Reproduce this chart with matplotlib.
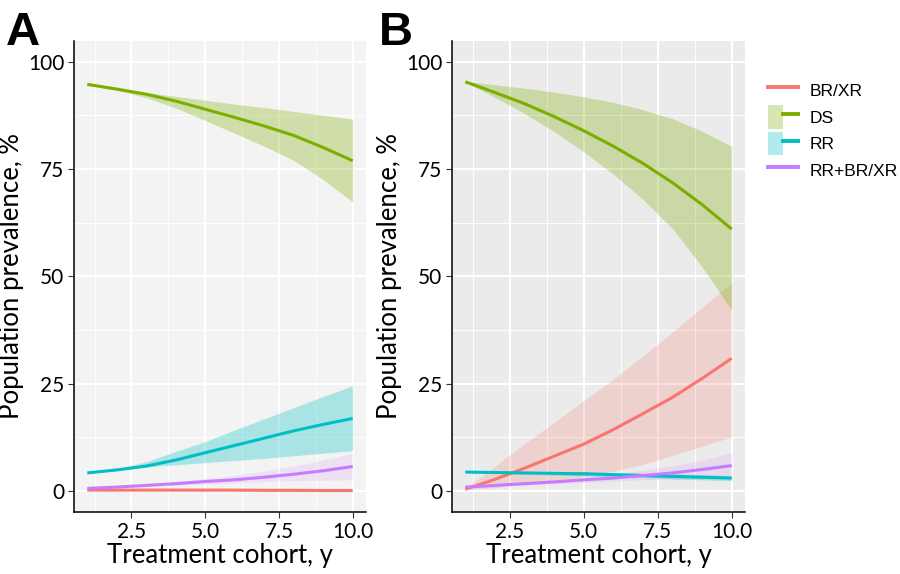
import numpy as np
import matplotlib
matplotlib.use("Agg")
import matplotlib.pyplot as plt
from matplotlib.lines import Line2D
from matplotlib.patches import Patch
from matplotlib.legend_handler import HandlerTuple

plt.rcParams['font.family'] = ['Lato', 'DejaVu Sans']

years = [1, 2, 3, 4, 5, 6, 7, 8, 9, 10]
groups = ['BR/XR', 'DS', 'RR', 'RR+BR/XR']
colors = {'BR/XR': '#F8766D', 'DS': '#7CAE00', 'RR': '#00BFC4', 'RR+BR/XR': '#C77CFF'}

# panel A
a_brxr = [0.2, 0.2, 0.2, 0.2, 0.2, 0.2, 0.15, 0.15, 0.1, 0.1]
a_brxr_lo = [0.1, 0.1, 0.1, 0.1, 0.05, 0.05, 0.0, 0.0, 0.0, 0.0]
a_brxr_hi = [0.3, 0.3, 0.3, 0.3, 0.3, 0.3, 0.3, 0.3, 0.3, 0.3]
a_ds = [94.7, 93.6, 92.4, 90.8, 88.9, 87.0, 85.0, 82.8, 80.0, 76.9]
a_ds_lo = [94.6, 93.3, 91.6, 89.2, 86.3, 83.3, 80.3, 77.0, 72.5, 67.3]
a_ds_hi = [94.8, 93.7, 92.8, 91.9, 91.0, 90.1, 89.3, 88.4, 87.5, 86.6]
a_rr = [4.2, 4.9, 5.8, 7.2, 8.9, 10.6, 12.3, 14.0, 15.5, 16.9]
a_rr_lo = [4.1, 4.8, 5.6, 6.1, 6.6, 7.1, 7.6, 8.2, 8.8, 9.4]
a_rr_hi = [4.3, 5.2, 6.8, 9.2, 11.5, 14.2, 16.8, 19.4, 22.0, 24.5]
a_rrbr = [0.6, 0.9, 1.3, 1.7, 2.2, 2.6, 3.2, 3.9, 4.7, 5.7]
a_rrbr_lo = [0.5, 0.7, 1.0, 1.3, 1.6, 1.9, 2.2, 2.4, 2.5, 2.6]
a_rrbr_hi = [0.7, 1.1, 1.6, 2.2, 2.9, 3.6, 4.6, 5.8, 7.2, 8.8]

# panel B
b_brxr = [0.4, 2.7, 5.3, 8.1, 10.9, 14.3, 18.0, 21.8, 26.2, 30.9]
b_brxr_lo = [0.3, 0.8, 1.6, 2.4, 3.4, 4.6, 6.2, 8.3, 10.4, 12.6]
b_brxr_hi = [0.5, 5.8, 11.0, 16.0, 21.0, 26.0, 31.5, 37.0, 42.8, 48.5]
b_ds = [95.3, 92.8, 90.2, 87.2, 83.9, 80.3, 76.3, 71.8, 66.7, 61.0]
b_ds_lo = [95.2, 91.7, 87.9, 83.7, 79.0, 73.8, 67.9, 61.1, 52.2, 42.1]
b_ds_hi = [95.4, 94.6, 93.8, 92.9, 91.8, 90.5, 88.8, 86.7, 83.8, 80.2]
b_rr = [4.4, 4.3, 4.2, 4.1, 4.0, 3.8, 3.6, 3.4, 3.2, 3.0]
b_rr_lo = [4.3, 4.1, 3.9, 3.7, 3.5, 3.3, 3.1, 2.8, 2.6, 2.4]
b_rr_hi = [4.5, 4.5, 4.5, 4.5, 4.5, 4.3, 4.1, 4.0, 3.8, 3.6]
b_rrbr = [0.9, 1.3, 1.7, 2.1, 2.6, 3.0, 3.6, 4.2, 5.0, 5.9]
b_rrbr_lo = [0.8, 1.1, 1.4, 1.7, 2.0, 2.3, 2.6, 2.8, 3.0, 3.1]
b_rrbr_hi = [1.0, 1.5, 2.0, 2.5, 3.2, 3.9, 4.8, 5.8, 7.2, 8.9]

panel_a = {'BR/XR': (a_brxr, a_brxr_lo, a_brxr_hi), 'DS': (a_ds, a_ds_lo, a_ds_hi),
           'RR': (a_rr, a_rr_lo, a_rr_hi), 'RR+BR/XR': (a_rrbr, a_rrbr_lo, a_rrbr_hi)}
panel_b = {'BR/XR': (b_brxr, b_brxr_lo, b_brxr_hi), 'DS': (b_ds, b_ds_lo, b_ds_hi),
           'RR': (b_rr, b_rr_lo, b_rr_hi), 'RR+BR/XR': (b_rrbr, b_rrbr_lo, b_rrbr_hi)}
ribbon_alpha = {'BR/XR': 0.22, 'DS': 0.3, 'RR': 0.3, 'RR+BR/XR': 0.15}

fig = plt.figure(figsize=(9, 5.74), dpi=100)
ax_a = fig.add_axes([0.0822, 0.108, 0.3244, 0.8206])
ax_b = fig.add_axes([0.5022, 0.108, 0.3256, 0.8206])

for ax, data, bg in [(ax_a, panel_a, '#F3F3F3'), (ax_b, panel_b, '#EBEBEB')]:
    ax.set_facecolor(bg)
    for g in groups:
        mid, lo, hi = data[g]
        ax.fill_between(years, lo, hi, color=colors[g], alpha=ribbon_alpha[g], linewidth=0)
    for g in groups:
        ax.plot(years, data[g][0], color=colors[g], lw=2.2, solid_capstyle='butt')
    ax.set_xlim(0.55, 10.45)
    ax.set_ylim(-4.9, 104.8)
    ax.set_xticks([2.5, 5.0, 7.5, 10.0])
    ax.set_xticklabels(['2.5', '5.0', '7.5', '10.0'])
    ax.set_xticks([1.25, 3.75, 6.25, 8.75], minor=True)
    ax.set_yticks([0, 25, 50, 75, 100])
    ax.set_yticks([12.5, 37.5, 62.5, 87.5], minor=True)
    ax.grid(True, which='major', color='white', lw=1.5)
    ax.grid(True, which='minor', color='white', lw=0.7)
    ax.set_axisbelow(True)
    ax.tick_params(which='major', labelsize=15, length=4, color='#333333', labelcolor='black', pad=3)
    ax.tick_params(which='minor', length=0)
    for s in ['top', 'right']:
        ax.spines[s].set_visible(False)
    for s in ['left', 'bottom']:
        ax.spines[s].set_color('black')
        ax.spines[s].set_linewidth(1.1)
    ax.set_xlabel('Treatment cohort, y', fontsize=18.5, labelpad=1)
    ax.set_ylabel('Population prevalence, %', fontsize=18.5, labelpad=3)

fig.text(0.006, 1 - 45 / 574, 'A', fontsize=34, fontweight='bold', family='Liberation Sans', va='baseline')
fig.text(0.421, 1 - 45 / 574, 'B', fontsize=34, fontweight='bold', family='Liberation Sans', va='baseline')

handles = []
for g in groups:
    ln = Line2D([], [], color=colors[g], lw=2.8)
    if g in ('DS', 'RR'):
        handles.append((Patch(facecolor=colors[g], alpha=0.3, edgecolor='none'), ln))
    else:
        handles.append(ln)
fig.legend(handles, groups, loc='upper left', bbox_to_anchor=(0.846, 0.875), frameon=False,
           handler_map={tuple: HandlerTuple(ndivide=None, pad=0)},
           prop={'family': 'Liberation Sans', 'size': 12.5}, handlelength=1.7, handleheight=1.7,
           labelspacing=0.18, handletextpad=0.65, borderaxespad=0)

fig.savefig('out.png', dpi=100)
